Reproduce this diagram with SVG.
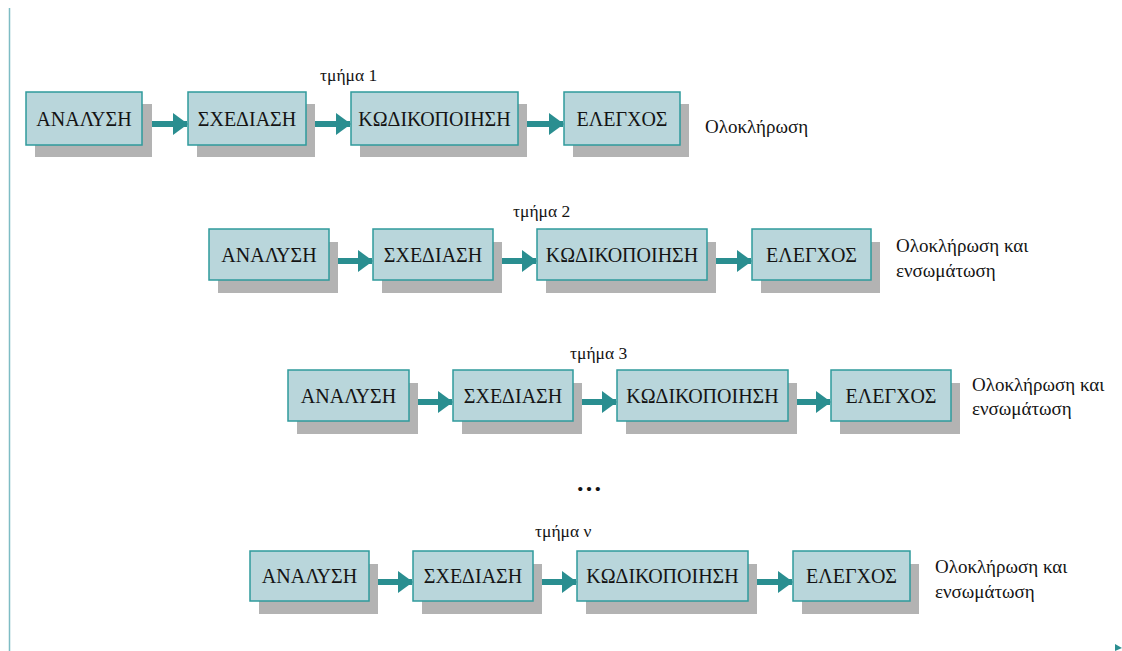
<svg xmlns="http://www.w3.org/2000/svg" width="1122" height="651" viewBox="0 0 1122 651" font-family="'Liberation Serif', 'Times New Roman', 'DejaVu Serif', serif">
<defs>
<style>
.box{fill:#b9d6db;stroke:#2f9a9c;stroke-width:1.5}
.sh{fill:#b3b3b3}
text{font-family:'Liberation Serif','Times New Roman','DejaVu Serif',serif;fill:#141414}
.bt{font-size:20px;text-anchor:middle;dominant-baseline:central}
.lb{font-size:19px}
.tm{font-size:17.5px}
.ar{stroke:#2a8e90;stroke-width:6;fill:none;marker-end:url(#ah)}
</style>
<marker id="ah" markerUnits="userSpaceOnUse" markerWidth="15" markerHeight="22" refX="14" refY="11" orient="auto">
<path d="M0,0 L15,11 L0,22 Z" fill="#2a8e90"/>
</marker>
</defs>
<rect width="1122" height="651" fill="#ffffff"/>
<line x1="9.5" y1="8" x2="9.5" y2="651" stroke="#7ebcc4" stroke-width="1.5"/>
<polygon points="1115,644 1122,648 1115,651" fill="#2a8e90"/>

<!-- row 1 -->
<g id="r1-analysi"><rect class="sh" x="35" y="104" width="117" height="53"/><rect class="box" x="26" y="92" width="116" height="53"/><text class="bt" x="84" y="118.5">ΑΝΑΛΥΣΗ</text></g>
<g id="r1-sxediasi"><rect class="sh" x="197" y="104" width="118" height="53"/><rect class="box" x="188" y="92" width="118" height="53"/><text class="bt" x="247" y="118.5">ΣΧΕΔΙΑΣΗ</text></g>
<g id="r1-kodikopoiisi"><rect class="sh" x="360" y="104" width="167" height="53"/><rect class="box" x="351" y="92" width="167" height="53"/><text class="bt" x="434.5" y="118.5">ΚΩΔΙΚΟΠΟΙΗΣΗ</text></g>
<g id="r1-elegxos"><rect class="sh" x="573" y="104" width="116" height="53"/><rect class="box" x="564" y="92" width="116" height="53"/><text class="bt" x="622" y="118.5">ΕΛΕΓΧΟΣ</text></g>
<g id="r1-labels"><text class="tm" x="320" y="81">τμήμα 1</text><text class="lb" x="705" y="133">Ολοκλήρωση</text></g>

<!-- row 2 -->
<g id="r2-analysi"><rect class="sh" x="218" y="242" width="120" height="51"/><rect class="box" x="209" y="229" width="120" height="51"/><text class="bt" x="269" y="254.5">ΑΝΑΛΥΣΗ</text></g>
<g id="r2-sxediasi"><rect class="sh" x="382" y="242" width="120" height="51"/><rect class="box" x="373" y="229" width="120" height="51"/><text class="bt" x="433" y="254.5">ΣΧΕΔΙΑΣΗ</text></g>
<g id="r2-kodikopoiisi"><rect class="sh" x="546" y="242" width="170" height="51"/><rect class="box" x="537" y="229" width="170" height="51"/><text class="bt" x="622" y="254.5">ΚΩΔΙΚΟΠΟΙΗΣΗ</text></g>
<g id="r2-elegxos"><rect class="sh" x="761" y="242" width="119" height="51"/><rect class="box" x="752" y="229" width="119" height="51"/><text class="bt" x="811.5" y="254.5">ΕΛΕΓΧΟΣ</text></g>
<g id="r2-labels"><text class="tm" x="513" y="217">τμήμα 2</text><text class="lb" x="896" y="252">Ολοκλήρωση και</text><text class="lb" x="896" y="277">ενσωμάτωση</text></g>

<!-- row 3 -->
<g id="r3-analysi"><rect class="sh" x="297" y="383" width="121" height="51"/><rect class="box" x="288" y="370" width="121" height="51"/><text class="bt" x="348.5" y="395.5">ΑΝΑΛΥΣΗ</text></g>
<g id="r3-sxediasi"><rect class="sh" x="462" y="383" width="120" height="51"/><rect class="box" x="453" y="370" width="120" height="51"/><text class="bt" x="513" y="395.5">ΣΧΕΔΙΑΣΗ</text></g>
<g id="r3-kodikopoiisi"><rect class="sh" x="626" y="383" width="171" height="51"/><rect class="box" x="617" y="370" width="171" height="51"/><text class="bt" x="702.5" y="395.5">ΚΩΔΙΚΟΠΟΙΗΣΗ</text></g>
<g id="r3-elegxos"><rect class="sh" x="840" y="383" width="120" height="51"/><rect class="box" x="831" y="370" width="120" height="51"/><text class="bt" x="891" y="395.5">ΕΛΕΓΧΟΣ</text></g>
<g id="r3-labels"><text class="tm" x="570" y="359">τμήμα 3</text><text class="lb" x="972" y="391">Ολοκλήρωση και</text><text class="lb" x="972" y="415">ενσωμάτωση</text></g>

<text x="589" y="491" font-size="26" font-weight="bold" text-anchor="middle">…</text>

<!-- row 4 -->
<g id="r4-analysi"><rect class="sh" x="259" y="564" width="119" height="50"/><rect class="box" x="250" y="551" width="119" height="50"/><text class="bt" x="309.5" y="576">ΑΝΑΛΥΣΗ</text></g>
<g id="r4-sxediasi"><rect class="sh" x="422" y="564" width="120" height="50"/><rect class="box" x="413" y="551" width="120" height="50"/><text class="bt" x="473" y="576">ΣΧΕΔΙΑΣΗ</text></g>
<g id="r4-kodikopoiisi"><rect class="sh" x="586" y="564" width="171" height="50"/><rect class="box" x="577" y="551" width="171" height="50"/><text class="bt" x="662.5" y="576">ΚΩΔΙΚΟΠΟΙΗΣΗ</text></g>
<g id="r4-elegxos"><rect class="sh" x="802" y="564" width="117" height="50"/><rect class="box" x="793" y="551" width="117" height="50"/><text class="bt" x="851.5" y="576">ΕΛΕΓΧΟΣ</text></g>
<g id="r4-labels"><text class="tm" x="535" y="537">τμήμα ν</text><text class="lb" x="935" y="573">Ολοκλήρωση και</text><text class="lb" x="935" y="598">ενσωμάτωση</text></g>

<g id="connectors">
<line class="ar" x1="152" y1="124" x2="187" y2="124"/>
<line class="ar" x1="315" y1="124" x2="350" y2="124"/>
<line class="ar" x1="527" y1="124" x2="563" y2="124"/>
<line class="ar" x1="338" y1="261" x2="372" y2="261"/>
<line class="ar" x1="502" y1="261" x2="536" y2="261"/>
<line class="ar" x1="716" y1="261" x2="751" y2="261"/>
<line class="ar" x1="418" y1="402" x2="452" y2="402"/>
<line class="ar" x1="582" y1="402" x2="616" y2="402"/>
<line class="ar" x1="797" y1="402" x2="830" y2="402"/>
<line class="ar" x1="378" y1="582" x2="412" y2="582"/>
<line class="ar" x1="542" y1="582" x2="576" y2="582"/>
<line class="ar" x1="757" y1="582" x2="792" y2="582"/>
</g>
</svg>
